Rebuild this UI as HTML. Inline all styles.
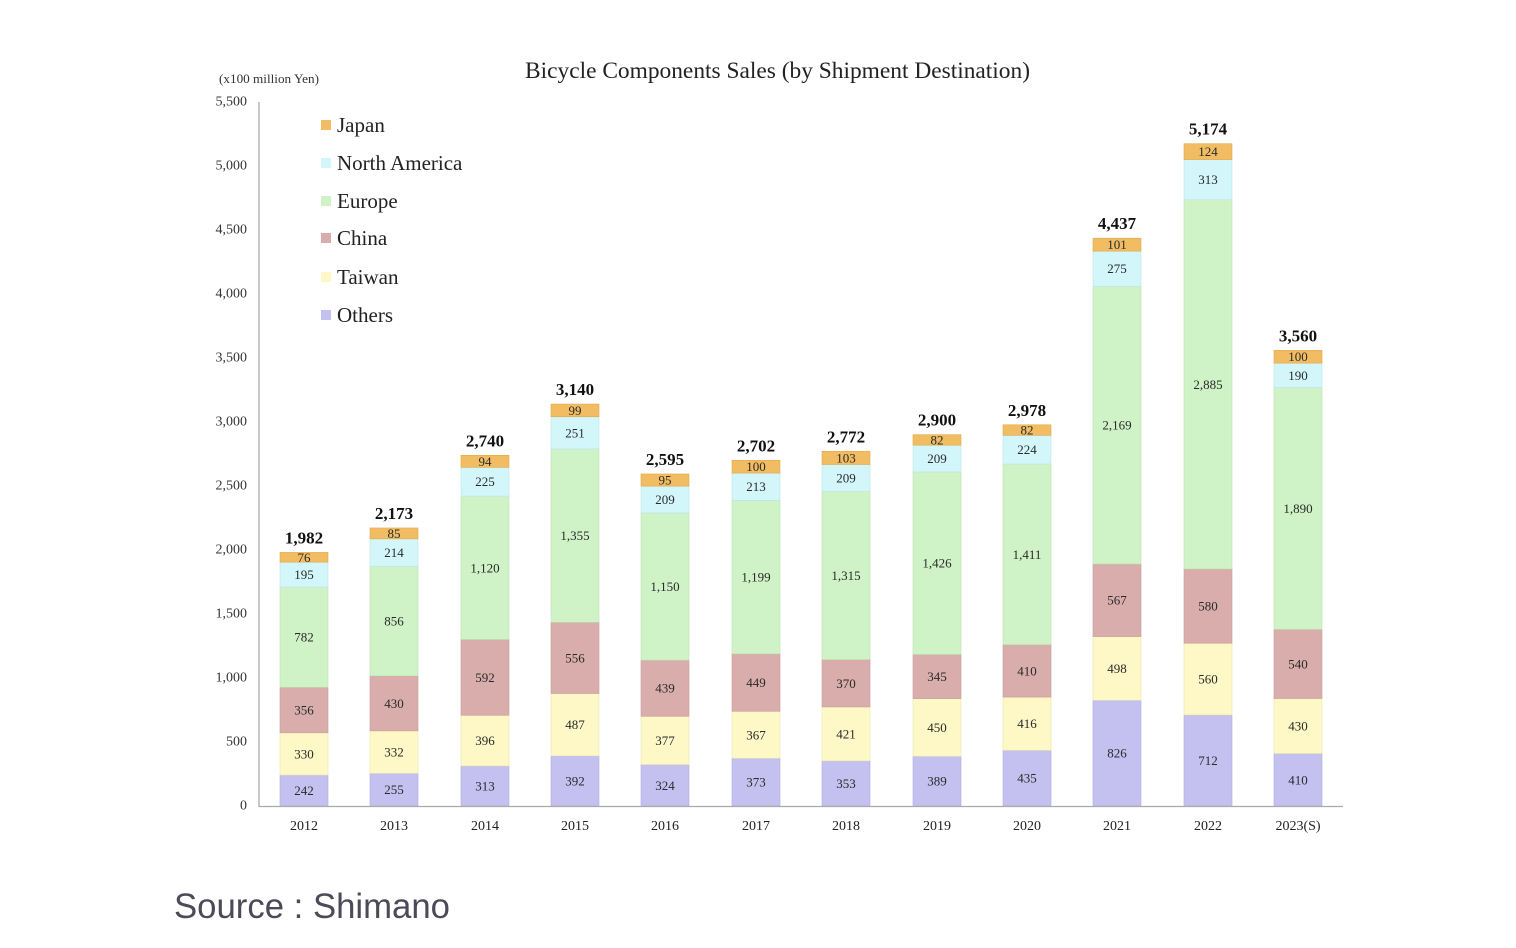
<!DOCTYPE html>
<html><head><meta charset="utf-8"><style>
html,body{margin:0;padding:0;background:#fff;}
svg{display:block;}
</style></head><body>
<svg width="1516" height="948" viewBox="0 0 1516 948" xmlns="http://www.w3.org/2000/svg">
<rect width="1516" height="948" fill="#fff"/>
<text x="525" y="78" font-family="Liberation Serif, serif" font-size="23" fill="#222" textLength="505" lengthAdjust="spacingAndGlyphs">Bicycle Components Sales (by Shipment Destination)</text>
<text x="219" y="83" font-family="Liberation Serif, serif" font-size="12.5" fill="#333" textLength="100" lengthAdjust="spacingAndGlyphs">(x100 million Yen)</text>
<g font-family="Liberation Serif, serif" font-size="14" fill="#333" text-anchor="end" dominant-baseline="central">
<text x="247" y="102">5,500</text><text x="247" y="166">5,000</text><text x="247" y="230">4,500</text><text x="247" y="294">4,000</text><text x="247" y="358">3,500</text><text x="247" y="422">3,000</text><text x="247" y="486">2,500</text><text x="247" y="550">2,000</text><text x="247" y="614">1,500</text><text x="247" y="678">1,000</text><text x="247" y="742">500</text><text x="247" y="806">0</text>
</g>
<line x1="259" y1="102" x2="259" y2="807" stroke="#aaa" stroke-width="1.3"/>
<g font-family="Liberation Serif, serif" font-size="21" fill="#222">
<rect x="321" y="120" width="10" height="10" fill="#f2bd62"/><text x="337" y="132">Japan</text>
<rect x="321" y="158" width="10" height="10" fill="#d2f6fa"/><text x="337" y="170">North America</text>
<rect x="321" y="196" width="10" height="10" fill="#cff3c6"/><text x="337" y="208">Europe</text>
<rect x="321" y="233" width="10" height="10" fill="#d8adab"/><text x="337" y="245">China</text>
<rect x="321" y="272" width="10" height="10" fill="#fdf8c6"/><text x="337" y="284">Taiwan</text>
<rect x="321" y="310" width="10" height="10" fill="#c4c1f0"/><text x="337" y="322">Others</text>
</g>
<g id="bars" stroke-width="0.6">
<rect x="280" y="775.02" width="48" height="30.98" fill="#c4c1f0" stroke="#b0ade0"/>
<rect x="280" y="732.78" width="48" height="42.24" fill="#fdf8c6" stroke="#ece6b0"/>
<rect x="280" y="687.21" width="48" height="45.57" fill="#d8adab" stroke="#c89c9a"/>
<rect x="280" y="587.11" width="48" height="100.1" fill="#cff3c6" stroke="#bde3b4"/>
<rect x="280" y="562.15" width="48" height="24.96" fill="#d2f6fa" stroke="#bfe6ea"/>
<rect x="280" y="552.42" width="48" height="9.73" fill="#f2bd62" stroke="#e0a84c"/>
<rect x="370" y="773.36" width="48" height="32.64" fill="#c4c1f0" stroke="#b0ade0"/>
<rect x="370" y="730.86" width="48" height="42.5" fill="#fdf8c6" stroke="#ece6b0"/>
<rect x="370" y="675.82" width="48" height="55.04" fill="#d8adab" stroke="#c89c9a"/>
<rect x="370" y="566.25" width="48" height="109.57" fill="#cff3c6" stroke="#bde3b4"/>
<rect x="370" y="538.86" width="48" height="27.39" fill="#d2f6fa" stroke="#bfe6ea"/>
<rect x="370" y="527.98" width="48" height="10.88" fill="#f2bd62" stroke="#e0a84c"/>
<rect x="461" y="765.94" width="48" height="40.06" fill="#c4c1f0" stroke="#b0ade0"/>
<rect x="461" y="715.25" width="48" height="50.69" fill="#fdf8c6" stroke="#ece6b0"/>
<rect x="461" y="639.47" width="48" height="75.78" fill="#d8adab" stroke="#c89c9a"/>
<rect x="461" y="496.11" width="48" height="143.36" fill="#cff3c6" stroke="#bde3b4"/>
<rect x="461" y="467.31" width="48" height="28.8" fill="#d2f6fa" stroke="#bfe6ea"/>
<rect x="461" y="455.28" width="48" height="12.03" fill="#f2bd62" stroke="#e0a84c"/>
<rect x="551" y="755.82" width="48" height="50.18" fill="#c4c1f0" stroke="#b0ade0"/>
<rect x="551" y="693.48" width="48" height="62.34" fill="#fdf8c6" stroke="#ece6b0"/>
<rect x="551" y="622.31" width="48" height="71.17" fill="#d8adab" stroke="#c89c9a"/>
<rect x="551" y="448.87" width="48" height="173.44" fill="#cff3c6" stroke="#bde3b4"/>
<rect x="551" y="416.74" width="48" height="32.13" fill="#d2f6fa" stroke="#bfe6ea"/>
<rect x="551" y="404.07" width="48" height="12.67" fill="#f2bd62" stroke="#e0a84c"/>
<rect x="641" y="764.53" width="48" height="41.47" fill="#c4c1f0" stroke="#b0ade0"/>
<rect x="641" y="716.27" width="48" height="48.26" fill="#fdf8c6" stroke="#ece6b0"/>
<rect x="641" y="660.08" width="48" height="56.19" fill="#d8adab" stroke="#c89c9a"/>
<rect x="641" y="512.88" width="48" height="147.2" fill="#cff3c6" stroke="#bde3b4"/>
<rect x="641" y="486.13" width="48" height="26.75" fill="#d2f6fa" stroke="#bfe6ea"/>
<rect x="641" y="473.97" width="48" height="12.16" fill="#f2bd62" stroke="#e0a84c"/>
<rect x="732" y="758.26" width="48" height="47.74" fill="#c4c1f0" stroke="#b0ade0"/>
<rect x="732" y="711.28" width="48" height="46.98" fill="#fdf8c6" stroke="#ece6b0"/>
<rect x="732" y="653.81" width="48" height="57.47" fill="#d8adab" stroke="#c89c9a"/>
<rect x="732" y="500.34" width="48" height="153.47" fill="#cff3c6" stroke="#bde3b4"/>
<rect x="732" y="473.08" width="48" height="27.26" fill="#d2f6fa" stroke="#bfe6ea"/>
<rect x="732" y="460.28" width="48" height="12.8" fill="#f2bd62" stroke="#e0a84c"/>
<rect x="822" y="760.82" width="48" height="45.18" fill="#c4c1f0" stroke="#b0ade0"/>
<rect x="822" y="706.93" width="48" height="53.89" fill="#fdf8c6" stroke="#ece6b0"/>
<rect x="822" y="659.57" width="48" height="47.36" fill="#d8adab" stroke="#c89c9a"/>
<rect x="822" y="491.25" width="48" height="168.32" fill="#cff3c6" stroke="#bde3b4"/>
<rect x="822" y="464.5" width="48" height="26.75" fill="#d2f6fa" stroke="#bfe6ea"/>
<rect x="822" y="451.32" width="48" height="13.18" fill="#f2bd62" stroke="#e0a84c"/>
<rect x="913" y="756.21" width="48" height="49.79" fill="#c4c1f0" stroke="#b0ade0"/>
<rect x="913" y="698.61" width="48" height="57.6" fill="#fdf8c6" stroke="#ece6b0"/>
<rect x="913" y="654.45" width="48" height="44.16" fill="#d8adab" stroke="#c89c9a"/>
<rect x="913" y="471.92" width="48" height="182.53" fill="#cff3c6" stroke="#bde3b4"/>
<rect x="913" y="445.17" width="48" height="26.75" fill="#d2f6fa" stroke="#bfe6ea"/>
<rect x="913" y="434.67" width="48" height="10.5" fill="#f2bd62" stroke="#e0a84c"/>
<rect x="1003" y="750.32" width="48" height="55.68" fill="#c4c1f0" stroke="#b0ade0"/>
<rect x="1003" y="697.07" width="48" height="53.25" fill="#fdf8c6" stroke="#ece6b0"/>
<rect x="1003" y="644.59" width="48" height="52.48" fill="#d8adab" stroke="#c89c9a"/>
<rect x="1003" y="463.98" width="48" height="180.61" fill="#cff3c6" stroke="#bde3b4"/>
<rect x="1003" y="435.31" width="48" height="28.67" fill="#d2f6fa" stroke="#bfe6ea"/>
<rect x="1003" y="424.81" width="48" height="10.5" fill="#f2bd62" stroke="#e0a84c"/>
<rect x="1093" y="700.27" width="48" height="105.73" fill="#c4c1f0" stroke="#b0ade0"/>
<rect x="1093" y="636.53" width="48" height="63.74" fill="#fdf8c6" stroke="#ece6b0"/>
<rect x="1093" y="563.95" width="48" height="72.58" fill="#d8adab" stroke="#c89c9a"/>
<rect x="1093" y="286.32" width="48" height="277.63" fill="#cff3c6" stroke="#bde3b4"/>
<rect x="1093" y="251.12" width="48" height="35.2" fill="#d2f6fa" stroke="#bfe6ea"/>
<rect x="1093" y="238.19" width="48" height="12.93" fill="#f2bd62" stroke="#e0a84c"/>
<rect x="1184" y="714.86" width="48" height="91.14" fill="#c4c1f0" stroke="#b0ade0"/>
<rect x="1184" y="643.18" width="48" height="71.68" fill="#fdf8c6" stroke="#ece6b0"/>
<rect x="1184" y="568.94" width="48" height="74.24" fill="#d8adab" stroke="#c89c9a"/>
<rect x="1184" y="199.66" width="48" height="369.28" fill="#cff3c6" stroke="#bde3b4"/>
<rect x="1184" y="159.6" width="48" height="40.06" fill="#d2f6fa" stroke="#bfe6ea"/>
<rect x="1184" y="143.73" width="48" height="15.87" fill="#f2bd62" stroke="#e0a84c"/>
<rect x="1274" y="753.52" width="48" height="52.48" fill="#c4c1f0" stroke="#b0ade0"/>
<rect x="1274" y="698.48" width="48" height="55.04" fill="#fdf8c6" stroke="#ece6b0"/>
<rect x="1274" y="629.36" width="48" height="69.12" fill="#d8adab" stroke="#c89c9a"/>
<rect x="1274" y="387.44" width="48" height="241.92" fill="#cff3c6" stroke="#bde3b4"/>
<rect x="1274" y="363.12" width="48" height="24.32" fill="#d2f6fa" stroke="#bfe6ea"/>
<rect x="1274" y="350.32" width="48" height="12.8" fill="#f2bd62" stroke="#e0a84c"/>
</g>
<line x1="259" y1="806.5" x2="1343" y2="806.5" stroke="#aaa" stroke-width="1.3"/>
<g font-family="Liberation Serif, serif" font-size="13" fill="#2a2a2a" text-anchor="middle" dominant-baseline="central">
<text x="304" y="790.5">242</text><text x="304" y="753.9">330</text><text x="304" y="710">356</text><text x="304" y="637.2">782</text><text x="304" y="574.6">195</text><text x="304" y="557.3">76</text>
<text x="394" y="789.7">255</text><text x="394" y="752.1">332</text><text x="394" y="703.3">430</text><text x="394" y="621">856</text><text x="394" y="552.6">214</text><text x="394" y="533.4">85</text>
<text x="485" y="786">313</text><text x="485" y="740.6">396</text><text x="485" y="677.4">592</text><text x="485" y="567.8">1,120</text><text x="485" y="481.7">225</text><text x="485" y="461.3">94</text>
<text x="575" y="780.9">392</text><text x="575" y="724.7">487</text><text x="575" y="657.9">556</text><text x="575" y="535.6">1,355</text><text x="575" y="432.8">251</text><text x="575" y="410.4">99</text>
<text x="665" y="785.3">324</text><text x="665" y="740.4">377</text><text x="665" y="688.2">439</text><text x="665" y="586.5">1,150</text><text x="665" y="499.5">209</text><text x="665" y="480">95</text>
<text x="756" y="782.1">373</text><text x="756" y="734.8">367</text><text x="756" y="682.6">449</text><text x="756" y="577.1">1,199</text><text x="756" y="486.7">213</text><text x="756" y="466.7">100</text>
<text x="846" y="783.4">353</text><text x="846" y="733.9">421</text><text x="846" y="683.3">370</text><text x="846" y="575.4">1,315</text><text x="846" y="477.9">209</text><text x="846" y="457.9">103</text>
<text x="937" y="781.1">389</text><text x="937" y="727.4">450</text><text x="937" y="676.5">345</text><text x="937" y="563.2">1,426</text><text x="937" y="458.6">209</text><text x="937" y="439.9">82</text>
<text x="1027" y="778.2">435</text><text x="1027" y="723.7">416</text><text x="1027" y="670.8">410</text><text x="1027" y="554.3">1,411</text><text x="1027" y="449.7">224</text><text x="1027" y="430.1">82</text>
<text x="1117" y="753.1">826</text><text x="1117" y="668.4">498</text><text x="1117" y="600.2">567</text><text x="1117" y="425.1">2,169</text><text x="1117" y="268.7">275</text><text x="1117" y="244.7">101</text>
<text x="1208" y="760.4">712</text><text x="1208" y="679">560</text><text x="1208" y="606.1">580</text><text x="1208" y="384.3">2,885</text><text x="1208" y="179.6">313</text><text x="1208" y="151.7">124</text>
<text x="1298" y="779.8">410</text><text x="1298" y="726">430</text><text x="1298" y="663.9">540</text><text x="1298" y="508.4">1,890</text><text x="1298" y="375.3">190</text><text x="1298" y="356.7">100</text>
</g>
<g font-family="Liberation Serif, serif" font-size="17" font-weight="bold" fill="#111" text-anchor="middle">
<text x="304" y="543.5">1,982</text><text x="394" y="519">2,173</text><text x="485" y="446.3">2,740</text><text x="575" y="395">3,140</text><text x="665" y="465">2,595</text><text x="756" y="451.3">2,702</text><text x="846" y="442.3">2,772</text><text x="937" y="425.7">2,900</text><text x="1027" y="415.8">2,978</text><text x="1117" y="229.2">4,437</text><text x="1208" y="134.7">5,174</text><text x="1298" y="341.3">3,560</text>
</g>
<g font-family="Liberation Serif, serif" font-size="14" fill="#222" text-anchor="middle">
<text x="304" y="830">2012</text><text x="394" y="830">2013</text><text x="485" y="830">2014</text><text x="575" y="830">2015</text><text x="665" y="830">2016</text><text x="756" y="830">2017</text><text x="846" y="830">2018</text><text x="937" y="830">2019</text><text x="1027" y="830">2020</text><text x="1117" y="830">2021</text><text x="1208" y="830">2022</text><text x="1298" y="830">2023(S)</text>
</g>
<text x="174" y="918" font-family="Liberation Sans, sans-serif" font-size="35" fill="#4a4a58" textLength="276" lengthAdjust="spacingAndGlyphs">Source : Shimano</text>
</svg>
</body></html>
